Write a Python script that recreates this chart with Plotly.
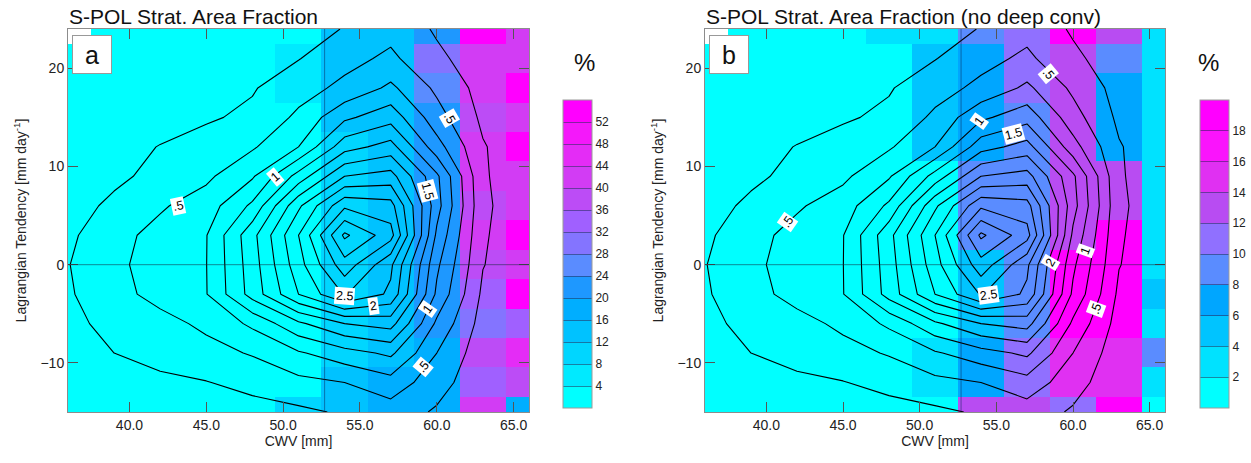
import plotly.graph_objects as go

# ---------------- data ----------------
cwv = [36, 39, 42, 45, 48, 51, 54, 57, 60, 63, 66]
tend = [24, 21, 18, 15, 12, 9, 6, 3, 0, -3, -6, -9, -12, -15]

# joint PDF contoured in both panels
pdf = [
    [0.01, 0.02, 0.03, 0.05, 0.09, 0.16, 0.26, 0.42, 0.22, 0.08, 0.03],
    [0.02, 0.03, 0.05, 0.08, 0.13, 0.24, 0.42, 0.55, 0.30, 0.12, 0.04],
    [0.03, 0.05, 0.09, 0.15, 0.23, 0.40, 0.56, 0.80, 0.45, 0.16, 0.05],
    [0.04, 0.08, 0.14, 0.22, 0.30, 0.55, 0.95, 1.15, 0.60, 0.20, 0.05],
    [0.08, 0.15, 0.26, 0.35, 0.47, 0.75, 1.40, 1.60, 0.85, 0.27, 0.06],
    [0.10, 0.20, 0.32, 0.45, 0.72, 1.35, 2.00, 2.10, 1.30, 0.28, 0.07],
    [0.15, 0.30, 0.47, 0.62, 1.05, 1.95, 2.70, 2.60, 1.35, 0.30, 0.07],
    [0.20, 0.42, 0.58, 0.74, 1.42, 2.25, 3.30, 2.85, 1.20, 0.28, 0.06],
    [0.24, 0.45, 0.60, 0.745, 1.38, 2.15, 2.90, 2.30, 1.05, 0.26, 0.05],
    [0.22, 0.42, 0.58, 0.74, 1.35, 2.00, 2.52, 2.20, 0.95, 0.20, 0.04],
    [0.18, 0.33, 0.42, 0.55, 0.80, 1.20, 1.50, 1.60, 0.70, 0.15, 0.03],
    [0.12, 0.25, 0.33, 0.42, 0.52, 0.72, 0.90, 1.05, 0.50, 0.10, 0.02],
    [0.08, 0.14, 0.20, 0.24, 0.33, 0.43, 0.50, 0.65, 0.35, 0.08, 0.02],
    [0.03, 0.05, 0.07, 0.10, 0.15, 0.20, 0.28, 0.38, 0.22, 0.06, 0.02],
]

# stratiform area fraction [%], panel a
frac_a = [
    [None, 2, 2, 2, 2, 2, 14, 14, 22, 54, 42],
    [2, 2, 2, 2, 2, 6, 14, 14, 30, 42, 42],
    [2, 2, 2, 2, 2, 6, 14, 14, 26, 42, 54],
    [2, 2, 2, 2, 2, 2, 14, 14, 22, 38, 42],
    [2, 2, 2, 2, 2, 2, 10, 14, 22, 42, 54],
    [2, 2, 2, 2, 2, 2, 10, 14, 22, 42, 42],
    [2, 2, 2, 2, 2, 2, 10, 14, 22, 38, 42],
    [2, 2, 2, 2, 2, 2, 10, 14, 22, 42, 54],
    [2, 2, 2, 2, 2, 2, 10, 14, 22, 38, 42],
    [2, 2, 2, 2, 2, 2, 10, 14, 22, 34, 54],
    [2, 2, 2, 2, 2, 2, 10, 14, 22, 30, 34],
    [2, 2, 2, 2, 2, 2, 10, 14, 18, 38, 46],
    [2, 2, 2, 2, 2, 2, 14, 18, 18, 34, 38],
    [2, 2, 2, 2, 2, 10, 14, 18, 18, 42, 18],
]

# stratiform area fraction [%], panel b (no deep convection)
frac_b = [
    [None, 1, 1, 1, 3, 3, 9, 11, 19, 13, 3],
    [1, 1, 1, 1, 1, 5, 7, 11, 13, 9, 3],
    [1, 1, 1, 1, 1, 5, 7, 11, 13, 7, 3],
    [1, 1, 1, 1, 1, 5, 7, 9, 13, 7, 3],
    [1, 1, 1, 1, 1, 5, 7, 9, 13, 7, 3],
    [1, 1, 1, 1, 1, 1, 9, 9, 13, 13, 3],
    [1, 1, 1, 1, 1, 1, 9, 9, 13, 13, 3],
    [1, 1, 1, 1, 1, 1, 9, 9, 13, 19, 3],
    [1, 1, 1, 1, 1, 1, 5, 9, 19, 19, 3],
    [1, 1, 1, 1, 1, 1, 5, 9, 19, 19, 5],
    [1, 1, 1, 1, 1, 1, 5, 9, 19, 19, 3],
    [1, 1, 1, 1, 1, 3, 7, 11, 15, 15, 9],
    [1, 1, 1, 1, 1, 3, 7, 11, 15, 15, 3],
    [1, 1, 1, 1, 1, 1, 13, 13, 11, 19, 1],
]

levels_a = [4, 8, 12, 16, 20, 24, 28, 32, 36, 40, 44, 48, 52]
levels_b = [2, 4, 6, 8, 10, 12, 14, 16, 18]
colors_a = ["#00FFFF", "#00EAFF", "#00D6FF", "#00C2FF", "#00AEFF", "#1E98FF",
            "#5A8CFF", "#8474FF", "#A060FF", "#BC4CF6", "#D23CF4", "#E42CF6",
            "#F418FA", "#FF00FF"]
colors_b = ["#00FFFF", "#00E2FF", "#00C4FF", "#00A6FF", "#5A8CFF", "#9070FF",
            "#B84CF2", "#E030F2", "#FA14FC", "#FF00FF"]

x_ticks = [40, 45, 50, 55, 60, 65]
y_ticks = [-10, 0, 10, 20]

# contour label text, positions and angles
labels_a = [(".5", 43.15, 6.0, -12), ("1", 49.5, 8.9, -40), (".5", 60.8, 14.9, 60),
            ("1.5", 59.4, 7.5, 75), ("2.5", 54.0, -3.2, 4), ("2", 55.9, -4.2, -8),
            ("1", 59.4, -4.5, -55), (".5", 59.1, -10.4, -50)]
labels_b = [(".5", 41.4, 4.3, -55), (".5", 58.4, 19.4, 50), ("1", 53.9, 14.6, -55),
            ("1.5", 56.1, 13.3, -15), ("2.5", 54.5, -3.1, -8), ("2", 58.5, 0.2, -60),
            ("1", 60.8, 1.4, -70), (".5", 61.5, -4.5, -70)]

crit_cwv = 52.7
titles = ["S-POL Strat. Area Fraction", "S-POL Strat. Area Fraction (no deep conv)"]
panel_letters = ["a", "b"]

# ---------------- figure ----------------
W, H = 1251, 463
FONT = "Liberation Sans, Arial, Helvetica, sans-serif"


def stepped(colors):
    n = len(colors)
    cs = []
    for i, c in enumerate(colors):
        cs.append([i / n, c])
        cs.append([(i + 1) / n, c])
    return cs


fig = go.Figure()

panels = [
    dict(frac=frac_a, levels=levels_a, colors=colors_a, dom=(68, 529), cbx=563, labels=labels_a),
    dict(frac=frac_b, levels=levels_b, colors=colors_b, dom=(705, 1165), cbx=1200, labels=labels_b),
]
ytop, ybot = 29, 412
ydom = [(H - ybot) / H, (H - ytop) / H]

for i, p in enumerate(panels):
    xa = "x" if i == 0 else "x2"
    ya = "y" if i == 0 else "y2"
    step = p["levels"][1] - p["levels"][0]
    ncls = len(p["colors"])
    fig.add_trace(go.Heatmap(
        x=cwv, y=tend, z=p["frac"], xaxis=xa, yaxis=ya,
        colorscale=stepped(p["colors"]), zmin=0, zmax=step * ncls,
        hoverongaps=False,
        colorbar=dict(
            x=p["cbx"] / W, xanchor="left", xref="paper", xpad=0, ypad=0,
            y=(H - 254) / H, yanchor="middle", len=308 / H, lenmode="fraction",
            thickness=29, thicknessmode="pixels",
            outlinewidth=1, outlinecolor="#9a9a9a",
            tickvals=p["levels"], ticktext=[str(v) for v in p["levels"]],
            ticks="inside", ticklen=29, tickwidth=1, tickcolor="rgba(40,40,90,0.55)",
            tickfont=dict(family=FONT, size=12, color="#222"),
            ticklabelposition="outside",
        ),
    ))
    fig.add_trace(go.Contour(
        x=cwv, y=tend, z=pdf, xaxis=xa, yaxis=ya,
        contours=dict(start=0.25, end=3.25, size=0.25, coloring="none"),
        line=dict(color="black", width=1.1, smoothing=0),
        showscale=False, hoverinfo="skip",
    ))

    dom = [p["dom"][0] / W, p["dom"][1] / W]
    axis_common = dict(
        showline=True, linecolor="#8c8c8c", linewidth=1, mirror="ticks",
        ticks="inside", ticklen=10, tickcolor="#555", tickwidth=1.2,
        showgrid=False, zeroline=False,
        tickfont=dict(family=FONT, size=14, color="#222"),
    )
    fig.update_layout(**{
        ("xaxis" if i == 0 else "xaxis2"): dict(
            domain=dom, range=[36, 66], tickvals=x_ticks, tickformat=".1f",
            anchor=ya, title=dict(text="CWV [mm]", font=dict(family=FONT, size=14, color="#222"), standoff=2),
            **axis_common),
        ("yaxis" if i == 0 else "yaxis2"): dict(
            domain=ydom, range=[-15, 24], tickvals=y_ticks, anchor=xa,
            title=dict(text="Lagrangian Tendency [mm day<sup>-1</sup>]",
                       font=dict(family=FONT, size=14, color="#222"), standoff=10),
            **axis_common),
    })

    # reference lines
    fig.add_shape(type="line", xref=xa, yref=ya, x0=36, x1=66, y0=0, y1=0,
                  line=dict(color="rgba(20,40,60,0.55)", width=1))
    fig.add_shape(type="line", xref=xa, yref=ya, x0=crit_cwv, x1=crit_cwv, y0=-15, y1=24,
                  line=dict(color="rgba(10,40,90,0.5)", width=1))

    # contour labels
    for txt, lx, ly, ang in p["labels"]:
        fig.add_annotation(x=lx, y=ly, xref=xa, yref=ya, text=txt, showarrow=False,
                           textangle=ang, bgcolor="white", borderpad=1,
                           font=dict(family=FONT, size=12.5, color="black"))

    # title
    fig.add_annotation(x=(p["dom"][0] - 1) / W, y=(H - 30) / H, xref="paper", yref="paper",
                       xanchor="left", yanchor="bottom", text=titles[i], showarrow=False,
                       font=dict(family=FONT, size=21, color="#111"))
    # panel letter
    fig.add_annotation(x=(p["dom"][0] + 4) / W, y=(H - 35) / H, xref="paper", yref="paper",
                       xanchor="left", yanchor="top", text=panel_letters[i], showarrow=False,
                       bgcolor="white", bordercolor="#999", borderwidth=1, borderpad=3,
                       width=32, height=31,
                       font=dict(family=FONT, size=25, color="#111"))
    # percent sign above colorbar
    fig.add_annotation(x=(p["cbx"] + 21) / W, y=(H - 62) / H, xref="paper", yref="paper",
                       yanchor="middle", text="%", showarrow=False,
                       font=dict(family=FONT, size=24, color="#111"))

fig.update_layout(
    width=W, height=H,
    margin=dict(l=0, r=0, t=0, b=0, autoexpand=False),
    paper_bgcolor="white", plot_bgcolor="white", showlegend=False,
    font=dict(family=FONT),
)

fig.write_html("out.html", config={"displayModeBar": False},
               post_script="document.body.style.margin='0px';")
